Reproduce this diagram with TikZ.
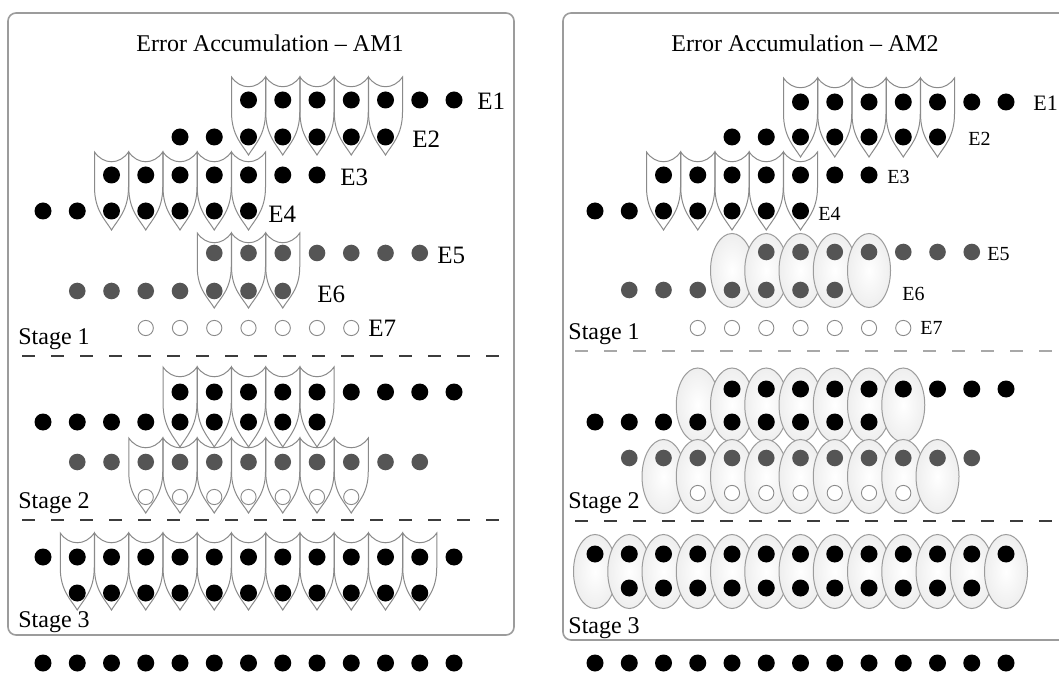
\documentclass[tikz,border=0pt]{standalone}
\usepackage{fontspec}
\setmainfont{Liberation Serif}
\definecolor{dotgray}{HTML}{555555}
\definecolor{ringgray}{HTML}{8A8A8A}
\definecolor{framegray}{HTML}{9C9C9C}
\definecolor{dashdark}{HTML}{3C3C3C}
\definecolor{dashlight}{HTML}{A8A8A8}

% one row of dots: name, style, x of column 0, y, first column, last column
\newcommand{\dotrow}[6]{%
  \foreach \k in {#5,...,#6} {\node[#2] (#1-\k) at ({#3+34.25*\k},#4) {};}}
% shield outline: centre x, top y, bottom y
\newcommand{\shieldat}[3]{%
  \draw[shieldline] ({#1-17},#2) .. controls ({#1-8},{#2+13}) and ({#1+8},{#2+13}) .. ({#1+17},#2)
    -- ({#1+17},{#2+0.45*(#3-#2)}) .. controls ({#1+17},{#2+0.75*(#3-#2)}) and ({#1+6},{#3-10}) .. ({#1},#3)
    .. controls ({#1-6},{#3-10}) and ({#1-17},{#2+0.75*(#3-#2)}) .. ({#1-17},{#2+0.45*(#3-#2)}) -- cycle;}
% row of shields: x of column 0, first column, last column, top, bottom
\newcommand{\shieldrow}[5]{%
  \foreach \k in {#2,...,#3} {\shieldat{#1+34.25*\k}{#4}{#5}}}
% row of shaded ellipses: x of column 0, first column, last column, centre y
\newcommand{\ovalrow}[4]{%
  \foreach \k in {#2,...,#3} {\shadedraw[ovalbox] ({#1+34.25*\k},#4) ellipse [x radius=10.75pt, y radius=18.5pt];}}

\begin{document}
\begin{tikzpicture}[x=0.5pt,y=-0.5pt,
  bdot/.style={circle,fill=black,inner sep=0pt,minimum size=8.5pt},
  gdot/.style={circle,fill=dotgray,inner sep=0pt,minimum size=8.3pt},
  odot/.style={circle,draw=ringgray,fill=white,line width=0.45pt,inner sep=0pt,minimum size=7.6pt},
  shieldline/.style={draw=ringgray,line width=0.5pt},
  ovalbox/.style={draw=ringgray!85,line width=0.5pt,inner color=white,outer color=gray!13},
  panel/.style={draw=framegray,line width=0.8pt,rounded corners=4pt},
  title/.style={font=\fontsize{12}{14}\selectfont,inner sep=0pt},
  elabel/.style={font=\fontsize{12.5}{14}\selectfont,anchor=west,inner sep=0pt},
  esmall/.style={font=\fontsize{10}{12}\selectfont,anchor=west,inner sep=0pt},
  stagelabel/.style={font=\fontsize{12}{14}\selectfont,anchor=west,inner sep=0pt},
  stagedash/.style={line width=0.65pt,dash pattern=on 6.5pt off 8pt}]
\useasboundingbox (0,0) rectangle (1059,673);
\clip (0,0) rectangle (1059,673);
\fill[white] (0,0) rectangle (1059,673);

% ---------------- left panel: AM1 ----------------
\draw[panel] (8,13) rectangle (514,635);
\node[title] (tL) at (270,43) {Error Accumulation – AM1};

\shieldrow{43}{6}{10}{77}{155}
\shieldrow{43}{2}{6}{152}{230}
\shieldrow{43}{5}{7}{233}{308}
\shieldrow{43}{4}{8}{367}{447}
\shieldrow{43}{3}{9}{438}{513}
\shieldrow{43}{1}{11}{533}{610}

\dotrow{La}{bdot}{43}{100}{6}{12}
\dotrow{Lb}{bdot}{43}{137}{4}{10}
\dotrow{Lc}{bdot}{43}{175}{2}{8}
\dotrow{Ld}{bdot}{43}{211}{0}{6}
\dotrow{Le}{gdot}{43}{253}{5}{11}
\dotrow{Lf}{gdot}{43}{291}{1}{7}
\dotrow{Lg}{odot}{43}{328}{3}{9}
\dotrow{Lh}{bdot}{43}{392}{4}{12}
\dotrow{Li}{bdot}{43}{422}{0}{8}
\dotrow{Lj}{gdot}{43}{462}{1}{11}
\dotrow{Lk}{odot}{43}{497}{3}{9}
\dotrow{Ll}{bdot}{43}{557}{0}{12}
\dotrow{Lm}{bdot}{43}{593}{1}{11}
\dotrow{Ln}{bdot}{43}{663}{0}{12}

\node[elabel] (LE1) at (477,101) {E1};
\node[elabel] (LE2) at (412,139) {E2};
\node[elabel] (LE3) at (340,177) {E3};
\node[elabel] (LE4) at (268,214) {E4};
\node[elabel] (LE5) at (437,255) {E5};
\node[elabel] (LE6) at (317,294) {E6};
\node[elabel] (LE7) at (368,328) {E7};

\node[stagelabel] (LS1) at (18,339) {Stage 1};
\node[stagelabel] (LS2) at (18,503) {Stage 2};
\node[stagelabel] (LS3) at (18,622) {Stage 3};
\draw[stagedash,dashdark] (22,356) -- (510,356);
\draw[stagedash,dashdark] (22,520) -- (510,520);

% ---------------- right panel: AM2 ----------------
\draw[panel] (563,13) rectangle (1080,640);
\node[title] (tR) at (805,43) {Error Accumulation – AM2};

\shieldrow{595}{6}{10}{78}{157}
\shieldrow{595}{2}{6}{152}{230}
\ovalrow{595}{4}{8}{270.5}
\ovalrow{595}{3}{9}{405}
\ovalrow{595}{2}{10}{476.5}
\ovalrow{595}{0}{12}{571.5}

\dotrow{Ra}{bdot}{595}{102}{6}{12}
\dotrow{Rb}{bdot}{595}{137}{4}{10}
\dotrow{Rc}{bdot}{595}{175}{2}{8}
\dotrow{Rd}{bdot}{595}{211}{0}{6}
\dotrow{Re}{gdot}{595}{252}{5}{11}
\dotrow{Rf}{gdot}{595}{290}{1}{7}
\dotrow{Rg}{odot}{595}{328}{3}{9}
\dotrow{Rh}{bdot}{595}{389}{4}{12}
\dotrow{Ri}{bdot}{595}{422}{0}{8}
\dotrow{Rj}{gdot}{595}{458}{1}{11}
\dotrow{Rk}{odot}{595}{493}{3}{9}
\dotrow{Rl}{bdot}{595}{554}{0}{12}
\dotrow{Rm}{bdot}{595}{588}{1}{11}
\dotrow{Rn}{bdot}{595}{663}{0}{12}

\node[elabel,font=\fontsize{11}{13}\selectfont] (RE1) at (1033,103) {E1};
\node[esmall] (RE2) at (968,139) {E2};
\node[esmall] (RE3) at (887,177) {E3};
\node[esmall] (RE4) at (818,214) {E4};
\node[esmall] (RE5) at (987,254) {E5};
\node[esmall] (RE6) at (902,294) {E6};
\node[esmall] (RE7) at (920,328) {E7};

\node[stagelabel] (RS1) at (568,334) {Stage 1};
\node[stagelabel] (RS2) at (568,503) {Stage 2};
\node[stagelabel] (RS3) at (568,628) {Stage 3};
\draw[stagedash,dashlight,line width=1pt] (575,351) -- (1065,351);
\draw[stagedash,dashdark] (575,521) -- (1065,521);
\end{tikzpicture}
\end{document}
